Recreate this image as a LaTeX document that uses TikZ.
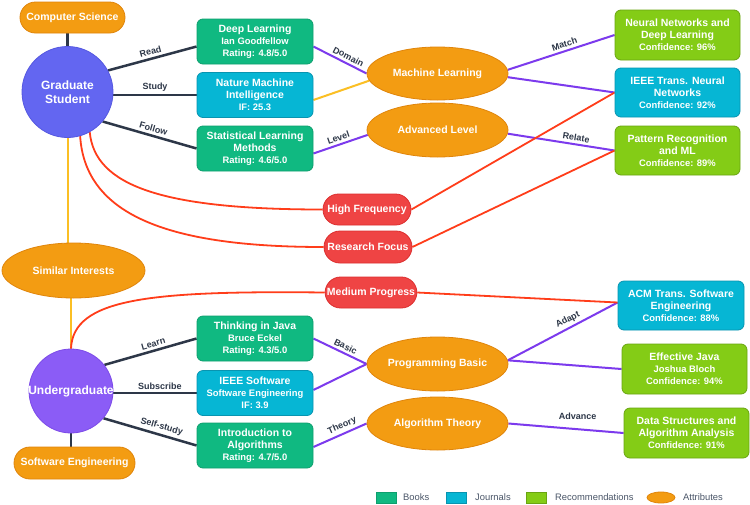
\documentclass[tikz,border=0pt]{standalone}
\usepackage{fontspec}
\setmainfont{Liberation Sans}
\usetikzlibrary{shapes.geometric,shapes.misc}
\definecolor{cBook}{HTML}{10B981}\definecolor{cBookD}{HTML}{0E9F6E}
\definecolor{cJour}{HTML}{06B6D4}\definecolor{cJourD}{HTML}{0894B0}
\definecolor{cRec}{HTML}{84CC16}\definecolor{cRecD}{HTML}{6AA512}
\definecolor{cAttr}{HTML}{F39C12}\definecolor{cAttrD}{HTML}{E0850B}
\definecolor{cRed}{HTML}{EF4444}\definecolor{cRedD}{HTML}{DC2E2E}
\definecolor{cGrad}{HTML}{6366F1}\definecolor{cGradD}{HTML}{5558E0}
\definecolor{cUg}{HTML}{8B5CF6}\definecolor{cUgD}{HTML}{7C4AE8}
\definecolor{eDark}{HTML}{2D3748}
\definecolor{ePurp}{HTML}{7C3AED}
\definecolor{eYel}{HTML}{FBBF24}
\definecolor{eRed}{HTML}{FF3D1A}
\definecolor{tLeg}{HTML}{4A5568}
\newcommand\subl[1]{{\fontsize{9.4}{12}\selectfont #1}}
\pgfdeclarelayer{edges}
\pgfsetlayers{edges,main}
\tikzset{
  base/.style={text=white, font=\fontsize{10.5}{12}\selectfont\bfseries, align=center, line width=0.8pt},
  bookbox/.style={base, rectangle, rounded corners=6pt, fill=cBook, draw=cBookD, minimum width=116pt, minimum height=45pt, inner sep=1pt},
  jourbox/.style={bookbox, fill=cJour, draw=cJourD},
  recbox/.style={base, rectangle, rounded corners=6pt, fill=cRec, draw=cRecD, minimum width=125pt, minimum height=49pt, inner sep=1pt},
  recjour/.style={recbox, fill=cJour, draw=cJourD},
  attr/.style={base, ellipse, fill=cAttr, draw=cAttrD, minimum width=141pt, minimum height=53pt, inner sep=0pt},
  pill/.style={base, rounded rectangle, fill=cAttr, draw=cAttrD, minimum height=31pt, inner xsep=2pt, inner ysep=0pt},
  redpill/.style={base, rounded rectangle, fill=cRed, draw=cRedD, minimum width=90pt, minimum height=31pt, inner xsep=1pt, inner ysep=0pt},
  person/.style={base, circle, font=\fontsize{12}{14}\selectfont\bfseries, inner sep=0pt},
  dk/.style={draw=eDark, line width=2.5pt},
  pu/.style={draw=ePurp, line width=2pt},
  ye/.style={draw=eYel, line width=2pt},
  rd/.style={draw=eRed, line width=1.8pt},
  lbl/.style={font=\fontsize{9}{10}\selectfont\bfseries, text=eDark, inner sep=2.5pt},
  legbox/.style={rectangle, minimum width=20pt, minimum height=11pt, inner sep=0pt, line width=0.8pt},
  legtxt/.style={font=\fontsize{9.4}{11}\selectfont, text=tLeg, inner sep=0pt, anchor=west}
}
\begin{document}
\begin{tikzpicture}[x=1pt,y=-1pt]
\useasboundingbox (0,0) rectangle (750,504);
% people and attributes (left)
\node[pill, minimum width=109pt] (cs) at (72.5,17.5) {Computer Science};
\node[person, fill=cGrad, draw=cGradD, minimum size=91pt] (grad) at (67.5,92) {Graduate\\Student};
\node[attr, minimum width=143pt, minimum height=55pt] (si) at (73.5,270.5) {Similar Interests};
\node[person, fill=cUg, draw=cUgD, minimum size=84pt,
      label={[text=white, font=\fontsize{12}{14}\selectfont\bfseries, inner sep=0pt]center:Undergraduate}] (ug) at (71,391) {};
\node[pill, minimum width=125pt, minimum height=32pt] (se) at (74.5,463) {Software Engineering};
% resources of graduate
\node[bookbox] (dl) at (255,41.5) {Deep Learning\\\subl{Ian Goodfellow}\\\subl{Rating: 4.8/5.0}};
\node[jourbox] (nmi) at (255,95) {Nature Machine\\Intelligence\\\subl{IF: 25.3}};
\node[bookbox] (slm) at (255,148.5) {Statistical Learning\\Methods\\\subl{Rating: 4.6/5.0}};
% attributes
\node[attr] (ml) at (437.5,73.5) {Machine Learning};
\node[attr, minimum height=54pt] (al) at (437.5,130) {Advanced Level};
\node[attr, minimum height=54pt] (pb) at (437.5,364) {Programming Basic};
\node[attr] (at) at (437.5,423.5) {Algorithm Theory};
% red nodes
\node[redpill] (hf) at (367,209.5) {High Frequency};
\node[redpill, minimum height=32pt] (rf) at (368,247) {Research Focus};
\node[redpill] (mp) at (371,292.5) {Medium Progress};
% recommendations
\node[recbox, minimum height=50pt] (nn) at (677.5,35) {Neural Networks and\\Deep Learning\\\subl{Confidence: 96\%}};
\node[recjour] (tnn) at (677.5,92.5) {IEEE Trans. Neural\\Networks\\\subl{Confidence: 92\%}};
\node[recbox] (pat) at (677.5,150.5) {Pattern Recognition\\and ML\\\subl{Confidence: 89\%}};
% resources of undergraduate
\node[bookbox] (tij) at (255,338.5) {Thinking in Java\\\subl{Bruce Eckel}\\\subl{Rating: 4.3/5.0}};
\node[jourbox] (ies) at (255,393) {IEEE Software\\\subl{Software Engineering}\\\subl{IF: 3.9}};
\node[bookbox] (ia) at (255,445.5) {Introduction to\\Algorithms\\\subl{Rating: 4.7/5.0}};
\node[recjour, minimum width=126pt] (acm) at (681,305.5) {ACM Trans. Software\\Engineering\\\subl{Confidence: 88\%}};
\node[recbox, minimum height=50pt] (ej) at (684.5,369) {Effective Java\\\subl{Joshua Bloch}\\\subl{Confidence: 94\%}};
\node[recbox, minimum height=50pt] (ds) at (686.5,433) {Data Structures and\\Algorithm Analysis\\\subl{Confidence: 91\%}};
% legend
\node[legbox, fill=cBook, draw=cBookD] (lg1) at (386,497.5) {};
\node[legtxt] (lt1) at (403,497.5) {Books};
\node[legbox, fill=cJour, draw=cJourD] (lg2) at (456.5,497.5) {};
\node[legtxt] (lt2) at (475,497.5) {Journals};
\node[legbox, fill=cRec, draw=cRecD] (lg3) at (536.5,497.5) {};
\node[legtxt] (lt3) at (555,497.5) {Recommendations};
\node[ellipse, fill=cAttr, draw=cAttrD, line width=0.8pt, minimum width=28pt, minimum height=11pt, inner sep=0pt] (lg4) at (661,497.5) {};
\node[legtxt] (lt4) at (683,497.5) {Attributes};
% connectors
\begin{pgfonlayer}{edges}
\fill[white] (0,0) rectangle (750,504);
\draw[dk] (grad.north) -- (grad.north |- cs.south);
\draw[dk] (grad.28) -- node[lbl,sloped,above]{Read} ([yshift=-5pt]dl.west);
\draw[dk] (nmi.west -| grad.east) -- node[lbl,above]{Study} (nmi.west);
\draw[dk] (grad.-40) -- node[lbl,sloped,above,pos=0.52]{Follow} (slm.west);
\draw[pu] ([yshift=-5pt]dl.east) -- node[lbl,sloped,above,pos=0.6]{Domain} (ml.west);
\draw[ye] ([yshift=-5pt]nmi.east) -- (ml.186);
\draw[pu] ([yshift=-5pt]slm.east) -- node[lbl,sloped,above]{Level} (al.184);
\draw[pu] (ml.3) -- node[lbl,sloped,above,pos=0.55]{Match} (nn.west);
\draw[pu] (ml.-3) -- (tnn.west);
\draw[pu] (al.-3) -- node[lbl,sloped,above,pos=0.63]{Relate} (pat.west);
\draw[rd] (hf.east) -- (tnn.west);
\draw[rd] (rf.east) -- (pat.west);
\draw[rd] (grad.-61) .. controls +(5,53) and +(-162,0) .. (hf.west);
\draw[rd] (grad.-74) .. controls +(5,80) and +(-153,0) .. (rf.west);
\draw[ye] (grad.south) -- (grad.south |- si.north);
\draw[ye] (si.south -| ug.north) -- (ug.north);
\draw[rd] (ug.north) .. controls +(2,-50) and +(-176,-2) .. (mp.west);
\draw[dk] (ug.38) -- node[lbl,sloped,above,pos=0.55]{Learn} (tij.west);
\draw[dk] (ies.west -| ug.east) -- node[lbl,above,pos=0.56]{Subscribe} (ies.west);
\draw[dk] (ug.-40) -- node[lbl,sloped,above,pos=0.6]{Self-study} (ia.west);
\draw[dk] (ug.south) -- (ug.south |- se.north);
\draw[pu] (tij.east) -- node[lbl,sloped,above,pos=0.55]{Basic} (pb.west);
\draw[pu] ([yshift=3pt]ies.east) -- (pb.west);
\draw[pu] ([yshift=-1.5pt]ia.east) -- node[lbl,sloped,above,pos=0.6]{Theory} (at.west);
\draw[pu] (pb.3) -- node[lbl,sloped,above,pos=0.58]{Adapt} ([yshift=3pt]acm.west);
\draw[pu] (pb.3) -- (ej.west);
\draw[rd] (mp.east) -- ([yshift=3pt]acm.west);
\draw[pu] (at.east) -- node[lbl,above=6pt,pos=0.6]{Advance} (ds.west);
\end{pgfonlayer}
\end{tikzpicture}
\end{document}
